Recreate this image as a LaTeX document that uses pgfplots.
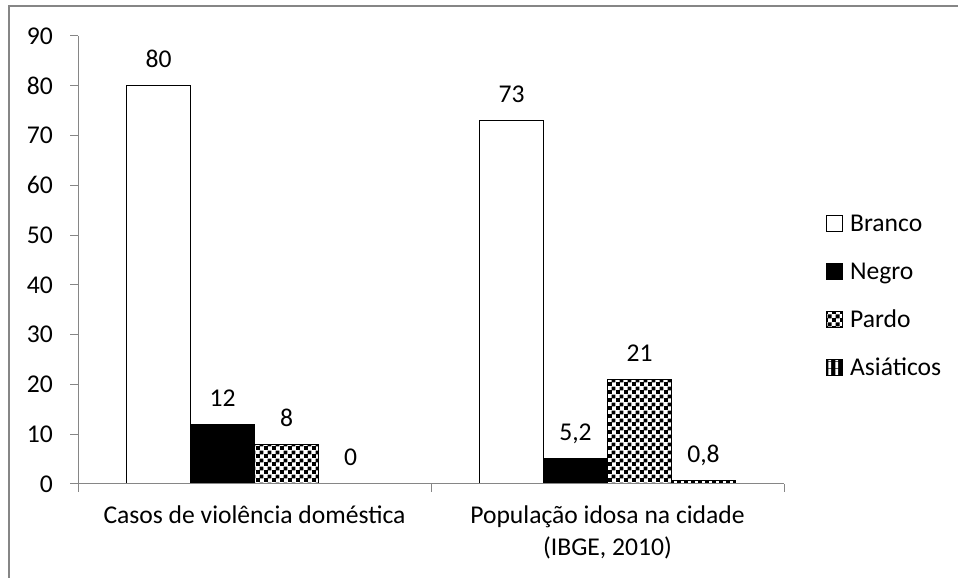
\documentclass[border=0pt]{standalone}
\usepackage{fontspec}
\setmainfont{Carlito}
\usepackage{pgfplots}
\pgfplotsset{compat=1.18}
\usetikzlibrary{patterns}
\pgfdeclarepatternformonly{bigcheck}{\pgfpointorigin}{\pgfqpoint{8pt}{8pt}}{\pgfqpoint{8pt}{8pt}}{%
 \pgfpathrectangle{\pgfpointorigin}{\pgfqpoint{4.3pt}{4.3pt}}%
 \pgfpathrectangle{\pgfqpoint{4pt}{4pt}}{\pgfqpoint{4.3pt}{4.3pt}}%
 \pgfusepath{fill}}
\pgfdeclarepatternformonly{vstripes}{\pgfpointorigin}{\pgfqpoint{7pt}{7pt}}{\pgfqpoint{7pt}{7pt}}{%
 \pgfpathrectangle{\pgfqpoint{2.5pt}{0pt}}{\pgfqpoint{3pt}{7pt}}\pgfusepath{fill}}
\definecolor{axgray}{HTML}{868686}
\begin{document}
\begin{tikzpicture}[font=\fontsize{25.6}{31.5}\selectfont]
\useasboundingbox (0pt,0pt) rectangle (958pt,578pt);
\draw[axgray, line width=2pt] (9pt,-20pt) -- (9pt,572pt) -- (990pt,572pt);
\begin{axis}[
 at={(78pt,94pt)}, anchor=south west,
 scale only axis, width=706pt, height=448pt,
 ybar=0pt, bar width=64pt,
 xmin=-0.5, xmax=1.5, ymin=0, ymax=90,
 ytick={0,10,...,90},
 xtick={-0.5,0.5,1.5}, xticklabels={},
 extra x ticks={0,1},
 extra x tick labels={Casos de violência doméstica, {População idosa na cidade\\(IBGE, 2010)}},
 extra x tick style={major tick length=0pt, xticklabel style={align=center, anchor=north, inner sep=0pt, yshift=-22pt}},
 axis x line*=bottom, axis y line*=left,
 axis line style={axgray, line width=1pt},
 tick style={axgray, line width=1pt},
 tick align=outside, major tick length=8pt,
 yticklabel style={inner sep=0pt, xshift=-17pt},
 axis on top,
 /pgf/number format/assume math mode=true,
 nodes near coords={\pgfmathprintnumber[use comma]{\pgfplotspointmeta}},
 nodes near coords style={anchor=base, inner sep=0pt, yshift=18pt, black},
 legend cell align=left,
 legend style={draw=none, fill=none, at={(1.0595,0.605)}, anchor=north west, inner sep=0pt, row sep=24pt, column sep=7pt, nodes={inner sep=0pt, text height=18pt, text depth=6pt, anchor=base west}},
 every axis plot post/.append style={legend image code/.code={\draw[#1] (0pt,0pt) rectangle (16pt,16pt);}},
]
\addplot[draw=black, line width=0.9pt, fill=white] coordinates {(0,80) (1,73)};
\addplot[draw=black, line width=0.9pt, fill=black] coordinates {(0,12) (1,5.2)};
\addplot[draw=black, line width=0.9pt, pattern=bigcheck, pattern color=black] coordinates {(0,8) (1,21)};
\addplot[draw=black, line width=0.9pt, fill=black, postaction={pattern=vstripes, pattern color=white}] coordinates {(0,0) (1,0.8)};
\legend{Branco, Negro, Pardo, Asiáticos}
\end{axis}
\end{tikzpicture}
\end{document}
